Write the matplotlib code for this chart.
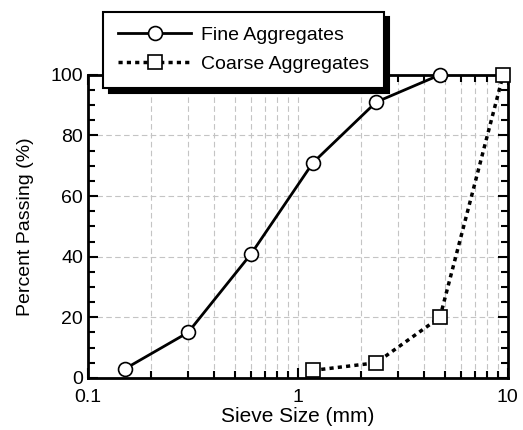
import matplotlib.pyplot as plt
from matplotlib.ticker import MultipleLocator, LogLocator, FixedFormatter, FixedLocator

plt.rcParams['font.family'] = ['Liberation Sans', 'DejaVu Sans']

fine_size = [0.15, 0.3, 0.6, 1.18, 2.36, 4.75]
fine_pass = [3, 15, 41, 71, 91, 100]
coarse_size = [1.18, 2.36, 4.75, 9.5]
coarse_pass = [2.5, 5, 20, 100]

fig = plt.figure(figsize=(5.23, 4.3), dpi=100)
ax = fig.add_axes([0.168, 0.121, 0.803, 0.705])

ax.plot(fine_size, fine_pass, '-', color='black', lw=2, marker='o', ms=10,
        mfc='white', mec='black', mew=1.2, label='Fine Aggregates', clip_on=False, zorder=5)
ax.plot(coarse_size, coarse_pass, ':', color='black', lw=2.5, marker='s', ms=10,
        mfc='white', mec='black', mew=1.2, label='Coarse Aggregates', clip_on=False, zorder=5,
        dashes=(1.2, 1.2))

ax.set_xscale('log')
ax.set_xlim(0.1, 10)
ax.set_ylim(0, 100)
ax.xaxis.set_major_locator(FixedLocator([0.1, 1, 10]))
ax.xaxis.set_major_formatter(FixedFormatter(['0.1', '1', '10']))
ax.xaxis.set_minor_locator(LogLocator(base=10, subs=range(2, 10)))
ax.yaxis.set_major_locator(MultipleLocator(20))
ax.yaxis.set_minor_locator(MultipleLocator(5))

ax.tick_params(which='both', direction='in', top=True, right=True, labelsize=14, width=1.5)
ax.tick_params(which='major', length=7)
ax.tick_params(which='minor', length=5)
ax.tick_params(axis='x', pad=8)
for s in ax.spines.values():
    s.set_linewidth(2)

ax.grid(True, which='both', axis='x', color='#c4c4c4', lw=0.8, dashes=(5, 3))
ax.grid(True, which='major', axis='y', color='#c4c4c4', lw=0.8, dashes=(5, 3))

ax.set_xlabel('Sieve Size (mm)', fontsize=15, labelpad=1)
ax.set_ylabel('Percent Passing (%)', fontsize=14, labelpad=12)

leg = ax.legend(loc='upper left', bbox_to_anchor=(0.036, 1.208), borderaxespad=0,
                fancybox=False, shadow={'color': 'black', 'alpha': 1, 'ox': 4, 'oy': -4},
                edgecolor='black', framealpha=1, fontsize=14, handlelength=3.8,
                handletextpad=0.5, borderpad=0.75, labelspacing=0.6)
leg.get_frame().set_linewidth(1.5)
leg.set_zorder(10)

fig.savefig('out.png', dpi=100)
